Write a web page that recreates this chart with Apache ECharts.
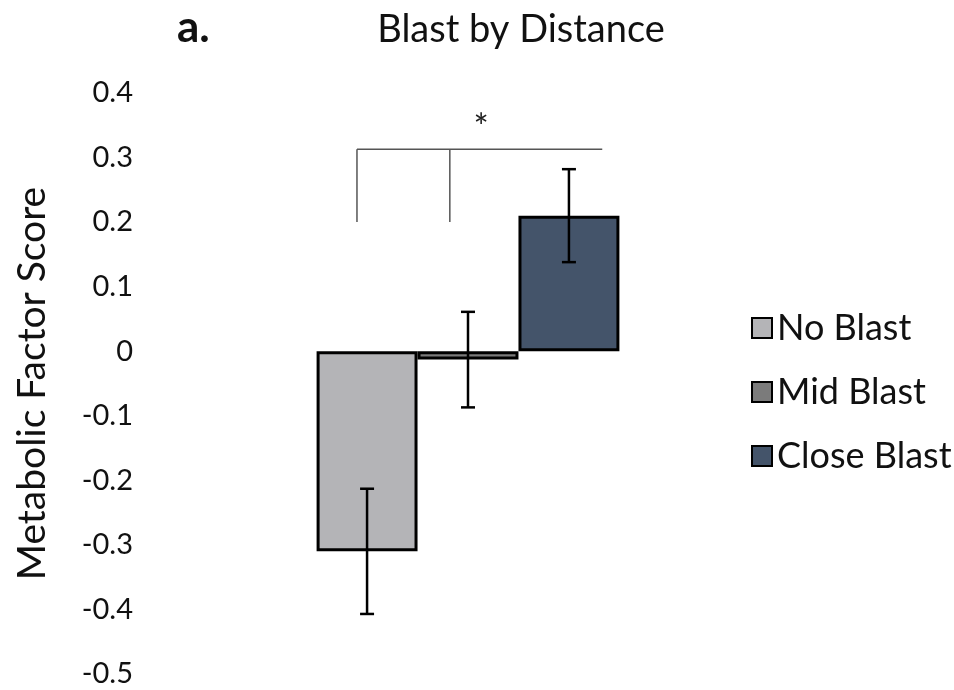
<!DOCTYPE html>
<html>
<head>
<meta charset="utf-8">
<title>Blast by Distance</title>
<script src="https://cdn.jsdelivr.net/npm/echarts@6/dist/echarts.min.js"></script>
<style>
  html, body { margin: 0; padding: 0; background: #fff; }
  #chart { width: 954px; height: 690px; }
</style>
</head>
<body>
<div id="chart"></div>
<script>
// Metabolic factor score by blast distance group (mean ± SE)
const seriesNames = ['No Blast', 'Mid Blast', 'Close Blast'];
const means = [-0.31, -0.013, 0.21];
const stdErrors = [0.097, 0.074, 0.072];
const barColors = ['#b4b4b7', '#7b7b7b', '#44546a'];
const yTicks = { min: -0.5, max: 0.4, step: 0.1 };

// Significance bracket: feet of the three legs (in bar-width units from the group centre)
const bracketLegs = [-1.1, -0.18, 1.33];
const bracketLow = 0.2;
const bracketHigh = 0.313;
const bracketMark = '*';
const bracketMarkAt = [0.13, 0.345];

const FONT = 'Lato';
const gridLeft = 145, gridRight = 163;
const gridWidth = 954 - gridLeft - gridRight;
const halfSpan = 3.2;                       // value-axis half span in bar widths
const barPx = gridWidth / (2 * halfSpan);

const chart = echarts.init(document.getElementById('chart'));

const barSeries = seriesNames.map((name, i) => ({
  name,
  type: 'bar',
  data: [means[i]],
  barWidth: barPx,
  barGap: '0%',
  itemStyle: { color: barColors[i], borderColor: '#000', borderWidth: 3 },
  z: 2
}));

const errorData = means.map((m, i) => [i - 1, m - stdErrors[i], m + stdErrors[i]]);

const errorSeries = {
  type: 'custom',
  xAxisIndex: 1,
  data: errorData,
  z: 5,
  renderItem(params, api) {
    const lo = api.coord([api.value(0), api.value(1)]);
    const hi = api.coord([api.value(0), api.value(2)]);
    const cap = 7;
    const style = { stroke: '#000', lineWidth: 2.5 };
    return {
      type: 'group',
      children: [
        { type: 'line', shape: { x1: lo[0], y1: lo[1], x2: hi[0], y2: hi[1] }, style },
        { type: 'line', shape: { x1: lo[0] - cap, y1: lo[1], x2: lo[0] + cap, y2: lo[1] }, style },
        { type: 'line', shape: { x1: hi[0] - cap, y1: hi[1], x2: hi[0] + cap, y2: hi[1] }, style }
      ]
    };
  }
};

const bracketSeries = {
  type: 'custom',
  xAxisIndex: 1,
  data: [[0, 0]],
  z: 4,
  silent: true,
  renderItem(params, api) {
    const style = { stroke: '#555', lineWidth: 1.5 };
    const left = api.coord([bracketLegs[0], bracketHigh]);
    const right = api.coord([bracketLegs[bracketLegs.length - 1], bracketHigh]);
    const children = [
      { type: 'line', shape: { x1: left[0], y1: left[1], x2: right[0], y2: right[1] }, style }
    ];
    bracketLegs.slice(0, 2).forEach(x => {
      const top = api.coord([x, bracketHigh]);
      const bot = api.coord([x, bracketLow]);
      children.push({ type: 'line', shape: { x1: top[0], y1: top[1], x2: bot[0], y2: bot[1] }, style });
    });
    const mp = api.coord(bracketMarkAt);
    children.push({
      type: 'text',
      x: mp[0], y: mp[1],
      style: { text: bracketMark, fill: '#222', font: '36px ' + FONT, textAlign: 'center', textVerticalAlign: 'middle' }
    });
    return { type: 'group', children };
  }
};

chart.setOption({
  animation: false,
  backgroundColor: '#fff',
  title: [
    { text: 'Blast by Distance', left: 516, top: 6, textAlign: 'center',
      textStyle: { fontFamily: FONT, fontSize: 38, fontWeight: 'normal', color: '#111' } },
    { text: 'a.', left: 172, top: 1,
      textStyle: { fontFamily: FONT, fontSize: 44, fontWeight: 'bold', color: '#111' } }
  ],
  legend: {
    orient: 'vertical',
    left: 746,
    top: 305,
    itemWidth: 20,
    itemHeight: 20,
    itemGap: 28,
    icon: 'rect',
    data: seriesNames,
    itemStyle: { borderColor: '#000', borderWidth: 2 },
    textStyle: { fontFamily: FONT, fontSize: 36, color: '#111', lineHeight: 36 }
  },
  grid: { left: gridLeft, right: gridRight, top: 93, bottom: 16, containLabel: false },
  xAxis: [
    { type: 'category', data: [''], show: false },
    { type: 'value', min: -halfSpan, max: halfSpan, show: false }
  ],
  yAxis: {
    type: 'value',
    min: yTicks.min,
    max: yTicks.max,
    interval: yTicks.step,
    name: 'Metabolic Factor Score',
    nameLocation: 'middle',
    nameGap: 93,
    nameTextStyle: { fontFamily: FONT, fontSize: 39, color: '#111' },
    axisLine: { show: false },
    axisTick: { show: false },
    splitLine: { show: false },
    axisLabel: {
      margin: 12,
      fontFamily: FONT, fontSize: 29, color: '#111',
      formatter: v => String(Number(v.toFixed(1)))
    }
  },
  series: [...barSeries, errorSeries, bracketSeries]
});
</script>
</body>
</html>
